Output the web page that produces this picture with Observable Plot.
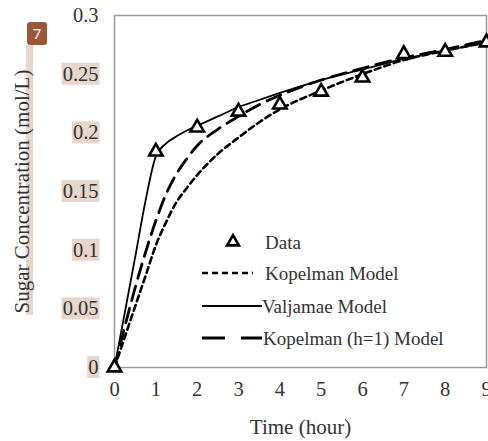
<!DOCTYPE html>
<html>
<head>
<meta charset="utf-8">
<script src="https://cdn.jsdelivr.net/npm/d3@7"></script>
<script src="https://cdn.jsdelivr.net/npm/@observablehq/plot@0.6"></script>
<style>
  html, body { margin: 0; padding: 0; background: #fff; }
  #wrap { position: relative; width: 488px; height: 441px; overflow: hidden; }
  #badge { position: absolute; left: 27px; top: 22px; width: 20px; height: 23px; background: #9a5636;
    border-radius: 3px; color: #fff; font: 15px "Noto Sans", sans-serif; text-align: center; line-height: 23px; }
</style>
</head>
<body>
<div id="wrap"></div>
<script>
// ---- data ----
const hours = [0, 1, 2, 3, 4, 5, 6, 7, 8, 9];
const sugarData = [0, 0.184, 0.2045, 0.218, 0.224, 0.235, 0.247, 0.267, 0.269, 0.277];

const modelTime = [0, 0.25, 0.5, 0.75, 1, 1.25, 1.5, 1.75, 2, 2.5, 3, 3.5, 4, 5, 6, 7, 8, 9];
const kopelman   = [0, 0.026, 0.052, 0.078, 0.104, 0.124, 0.141, 0.153, 0.164, 0.182, 0.196, 0.209, 0.220, 0.236, 0.250, 0.262, 0.270, 0.277];
const valjamae   = [0, 0.047, 0.094, 0.142, 0.180, 0.191, 0.197, 0.202, 0.206, 0.214, 0.222, 0.228, 0.234, 0.245, 0.254, 0.263, 0.270, 0.277];
const kopelmanH1 = [0, 0.035, 0.068, 0.098, 0.125, 0.148, 0.165, 0.178, 0.189, 0.203, 0.214, 0.224, 0.232, 0.245, 0.255, 0.264, 0.271, 0.279];

const xTicks = [0, 1, 2, 3, 4, 5, 6, 7, 8, 9];
const yTicks = [0, 0.05, 0.1, 0.15, 0.2, 0.25, 0.3];

const seriesNames = ["Data", "Kopelman Model", "Valjamae Model", "Kopelman (h=1) Model"];

const pts = hours.map((h, i) => ({t: h, v: sugarData[i]}));
const mk = arr => modelTime.map((t, i) => ({t, v: arr[i]}));

const font = '"Liberation Serif", "DejaVu Serif", serif';
const textColor = "#333";

const plot = Plot.plot({
  width: 488,
  height: 441,
  marginLeft: 114,
  marginRight: 2,
  marginTop: 15,
  marginBottom: 74,
  style: {fontFamily: font, fontSize: "20.5px", color: textColor, background: "#fff"},
  x: {domain: [0, 9], ticks: xTicks, tickSize: 0, tickPadding: 14, label: "Time (hour)", labelArrow: "none", labelAnchor: "center", labelOffset: 66},
  y: {domain: [0, 0.3], ticks: yTicks, tickSize: 0, tickPadding: 16, tickFormat: d => String(+d.toFixed(2)),
      label: "Sugar Concentration (mol/L)", labelArrow: "none", labelAnchor: "center", labelOffset: 100},
  marks: [
    Plot.frame({stroke: "#999", strokeWidth: 1.5}),
    Plot.line(mk(kopelman), {x: "t", y: "v", curve: "monotone-x", stroke: "#000", strokeWidth: 2.6, strokeDasharray: "6,4"}),
    Plot.line(mk(kopelmanH1), {x: "t", y: "v", curve: "monotone-x", stroke: "#000", strokeWidth: 2.8, strokeDasharray: "15,8"}),
    Plot.line(mk(valjamae), {x: "t", y: "v", curve: "monotone-x", stroke: "#000", strokeWidth: 1.8}),
    Plot.dot(pts, {x: "t", y: "v", symbol: "triangle", r: 5, fill: "#fff", stroke: "#000", strokeWidth: 2.6})
  ]
});

const wrap = document.getElementById("wrap");
wrap.appendChild(plot);
const badge = document.createElement("div");
badge.id = "badge";
badge.textContent = "7";

const svg = d3.select(plot);
svg.selectAll("g[aria-label='x-axis label'], g[aria-label='y-axis label']").attr("font-size", "21px");

// ---- legend (inside plot area) ----
const lg = svg.append("g").attr("font-family", font).attr("font-size", 19).attr("fill", textColor).attr("text-anchor", "start");
const rows = [
  {y: 242, kind: "data", tx: 265},
  {y: 273, kind: "dash", dash: "6,4", w: 2.6, x2: 253, tx: 265},
  {y: 306, kind: "solid", w: 1.8, x2: 262, tx: 262},
  {y: 338, kind: "long", dash: "23,16", w: 2.8, x2: 262, tx: 263}
];
rows.forEach((r, i) => {
  if (r.kind === "data") {
    lg.append("path").attr("d", d3.symbol(d3.symbolTriangle, 60)()).attr("transform", `translate(233,${r.y})`)
      .attr("fill", "#fff").attr("stroke", "#000").attr("stroke-width", 2.6);
  } else {
    const l = lg.append("line").attr("x1", 202).attr("x2", r.x2).attr("y1", r.y).attr("y2", r.y)
      .attr("stroke", "#000").attr("stroke-width", r.w);
    if (r.dash) l.attr("stroke-dasharray", r.dash);
  }
  lg.append("text").attr("x", r.tx).attr("y", r.y).attr("dy", "0.35em").text(seriesNames[i]);
});

// ---- highlights behind y tick labels and y title ----
const hl = "#e6d6cb";
svg.selectAll("g[aria-label='y-axis tick label'] text").each(function() {
  const t = d3.select(this);
  if (t.text() === "0.3") return;
  const b = this.getBBox();
  d3.select(this.parentNode).insert("rect", () => this)
    .attr("x", b.x - 1).attr("y", b.y).attr("width", b.width + 2).attr("height", b.height)
    .attr("transform", this.getAttribute("transform"))
    .attr("fill", hl);
});
svg.insert("rect", ":first-child").attr("x", 26).attr("y", 45).attr("width", 7).attr("height", 270).attr("fill", hl);
svg.insert("rect", ":first-child").attr("width", 488).attr("height", 441).attr("fill", "#fff");
wrap.appendChild(badge);
</script>
</body>
</html>
